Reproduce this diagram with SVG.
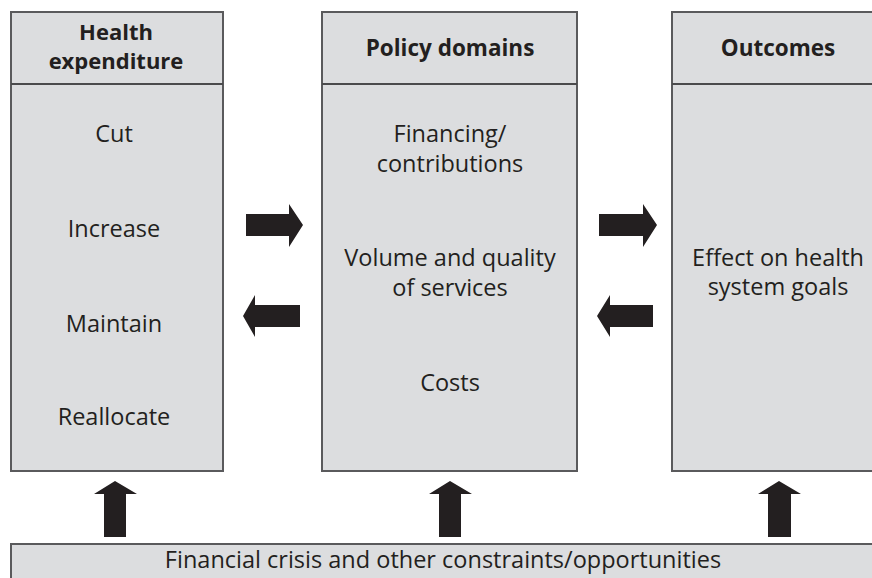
<svg xmlns="http://www.w3.org/2000/svg" width="872" height="578" viewBox="0 0 872 578">
<style>
.box{fill:#dcdddf;stroke:#5a5a5c;stroke-width:2}
.div{stroke:#4a4a4c;stroke-width:2}
text{font-family:"Open Sans","Noto Sans",sans-serif;font-size:23.5px;fill:#231f20;text-anchor:middle}
.h{font-weight:bold;font-size:22.5px}
.hs{font-size:22px}
.arr{fill:#231f20}
</style>
<rect width="872" height="578" fill="#fff"/>
<g id="node-health-expenditure">
<rect class="box" x="11" y="12" width="212" height="459"/>
<line class="div" x1="11" y1="84" x2="223" y2="84"/>
<text class="h hs" x="116" y="40">Health</text>
<text class="h hs" x="116" y="69">expenditure</text>
<text x="114" y="142">Cut</text>
<text x="114" y="237">Increase</text>
<text x="114" y="332">Maintain</text>
<text x="114" y="425">Reallocate</text>
</g>
<g id="node-policy-domains">
<rect class="box" x="322" y="12" width="255" height="459"/>
<line class="div" x1="322" y1="84" x2="577" y2="84"/>
<text class="h" x="450" y="56">Policy domains</text>
<text x="450" y="142">Financing/</text>
<text x="450" y="172">contributions</text>
<text x="450" y="266">Volume and quality</text>
<text x="450" y="296">of services</text>
<text x="450" y="391">Costs</text>
</g>
<g id="node-outcomes">
<rect class="box" x="672" y="12" width="212" height="459"/>
<line class="div" x1="672" y1="84" x2="884" y2="84"/>
<text class="h" x="778" y="56">Outcomes</text>
<text x="778" y="266">Effect on health</text>
<text x="778" y="295">system goals</text>
</g>
<g id="node-constraints">
<rect class="box" x="11" y="544" width="880" height="50"/>
<text x="443" y="568">Financial crisis and other constraints/opportunities</text>
</g>
<g id="connectors">
<polygon class="arr" points="246,214 289,214 289,204 303,225 289,247 289,236 246,236"/>
<polygon class="arr" points="300,305 255,305 255,295 243,316 255,337 255,327 300,327"/>
<polygon class="arr" points="599,214 643,214 643,204 657,225 643,247 643,236 599,236"/>
<polygon class="arr" points="653,305 610,305 610,295 597,316 610,337 610,327 653,327"/>
<polygon class="arr" points="104,537 104,494 94,494 115,481 137,494 126,494 126,537"/>
<polygon class="arr" points="439,537 439,494 429,494 450,481 472,494 461,494 461,537"/>
<polygon class="arr" points="768,537 768,494 758,494 779,481 801,494 791,494 791,537"/>
</g>
</svg>
